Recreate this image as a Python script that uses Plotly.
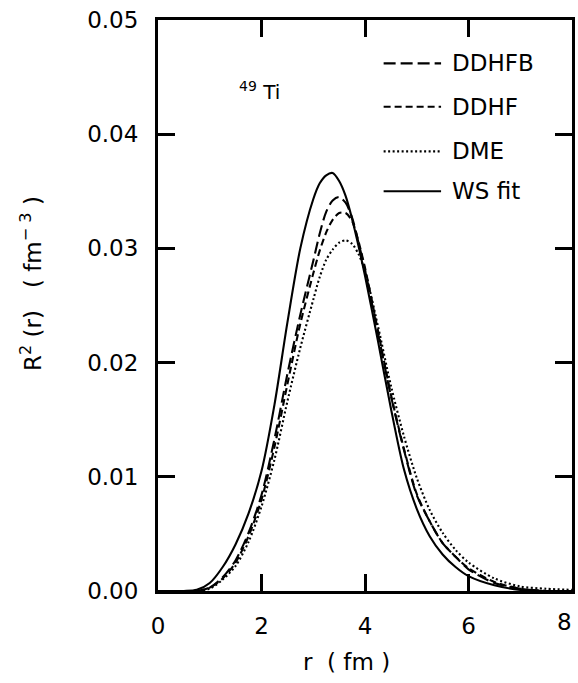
import plotly.graph_objects as go

# r grid (fm)
r = [0.0, 0.5, 0.75, 1.0, 1.25, 1.5, 1.75, 2.0, 2.25, 2.5, 2.75, 3.0, 3.125, 3.25,
     3.375, 3.5, 3.625, 3.75, 3.875, 4.0, 4.25, 4.5, 4.75, 5.0, 5.25, 5.5, 5.75,
     6.0, 6.5, 7.0, 7.5, 8.0]

ws_fit = [0.0, 0.0, 0.0001, 0.0007, 0.0021, 0.0041, 0.0068, 0.0105, 0.0163, 0.0235,
          0.0300, 0.0343, 0.0357, 0.0364, 0.0366, 0.0359, 0.0346, 0.0326, 0.0302,
          0.0276, 0.0219, 0.0160, 0.0107, 0.0072, 0.0048, 0.0032, 0.0021, 0.0013,
          0.0005, 0.0001, 0.0, 0.0]

ddhfb = [0.0, 0.0, 0.0, 0.0003, 0.0012, 0.0027, 0.0051, 0.0084, 0.0133, 0.0190,
         0.0242, 0.0289, 0.0313, 0.0332, 0.0342, 0.0345, 0.0340, 0.0327, 0.0305,
         0.0281, 0.0226, 0.0171, 0.0124, 0.0084, 0.0061, 0.0042, 0.0030, 0.0019,
         0.0007, 0.0002, 0.0, 0.0]

ddhf = [0.0, 0.0, 0.0, 0.0003, 0.0011, 0.0025, 0.0048, 0.0080, 0.0126, 0.0181,
        0.0234, 0.0278, 0.0298, 0.0314, 0.0325, 0.0331, 0.0331, 0.0324, 0.0306,
        0.0283, 0.0228, 0.0172, 0.0125, 0.0085, 0.0061, 0.0042, 0.0030, 0.0020,
        0.0008, 0.0002, 0.0, 0.0]

dme = [0.0, 0.0, 0.0, 0.0002, 0.0010, 0.0022, 0.0043, 0.0074, 0.0115, 0.0166,
       0.0213, 0.0255, 0.0275, 0.0290, 0.0299, 0.0305, 0.0307, 0.0304, 0.0295,
       0.0280, 0.0232, 0.0180, 0.0136, 0.0099, 0.0071, 0.0051, 0.0036, 0.0025,
       0.0011, 0.0004, 0.0002, 0.0001]

series_names = ["DDHFB", "DDHF", "DME", "WS fit"]
series_values = [ddhfb, ddhf, dme, ws_fit]
series_dash = ["12px,5px", "7px,4px", "2px,2.5px", "solid"]

x_ticks = [0, 2, 4, 6, 8]
y_ticks = [0.00, 0.01, 0.02, 0.03, 0.04, 0.05]

FONT = "DejaVu Sans"

L, R, T, B = 158, 3, 20, 92
W, H = 578, 683
pw = W - L - R
ph = H - T - B


def px(xp):
    return (xp - L) / pw


def py(yp):
    return (H - B - yp) / ph


fig = go.Figure()
for name, vals, dash in zip(series_names, series_values, series_dash):
    fig.add_trace(go.Scatter(
        x=r, y=vals, mode="lines", name=name,
        line=dict(color="black", width=2.1, dash=dash, shape="spline", smoothing=0.8),
        showlegend=False,
    ))

# manual legend (in data coordinates)
leg_x0, leg_x1, leg_text_x = 4.36, 5.47, 5.64
leg_y = [0.0462, 0.0424, 0.0385, 0.0350]
for name, dash, yy in zip(series_names, series_dash, leg_y):
    fig.add_shape(type="line", xref="x", yref="y", x0=leg_x0, x1=leg_x1, y0=yy, y1=yy,
                  line=dict(color="black", width=2.1, dash=dash))
    fig.add_annotation(x=leg_text_x, y=yy, xref="x", yref="y", text=name,
                       showarrow=False, xanchor="left", yanchor="middle",
                       font=dict(family=FONT, size=23, color="black"))

# nucleus label
fig.add_annotation(x=1.52, y=0.0438, xref="x", yref="y",
                   text="<sup>49</sup> Ti", showarrow=False, xanchor="left",
                   yanchor="middle", font=dict(family=FONT, size=20, color="black"))

# axis titles
fig.add_annotation(x=px(348), y=py(662), xref="paper", yref="paper",
                   text="r  ( fm )", showarrow=False, xanchor="center", yanchor="middle",
                   font=dict(family=FONT, size=23, color="black"))
fig.add_annotation(x=px(30), y=py(283), xref="paper", yref="paper",
                   text="R<sup>2</sup> (r)   ( fm<sup>\u2212 3</sup> )", showarrow=False,
                   textangle=-90, xanchor="center", yanchor="middle",
                   font=dict(family=FONT, size=23, color="black"))

# last x tick label, kept just inside the page edge
fig.add_annotation(x=px(577), y=py(622), xref="paper", yref="paper", text="8",
                   showarrow=False, xanchor="right", yanchor="middle",
                   font=dict(family=FONT, size=23, color="black"))

fig.update_layout(
    width=W, height=H,
    margin=dict(l=L, r=R, t=T, b=B),
    paper_bgcolor="white", plot_bgcolor="white",
    font=dict(family=FONT, size=23, color="black"),
)

fig.update_xaxes(range=[0, 8], tickvals=x_ticks[:-1],
                 ticktext=[str(v) for v in x_ticks[:-1]],
                 ticks="inside", ticklen=17, tickwidth=3, tickcolor="black",
                 showline=True, linewidth=3, linecolor="black", mirror="ticks",
                 showgrid=False, zeroline=False, ticklabelstandoff=12,
                 tickfont=dict(family=FONT, size=23, color="black"))
fig.update_yaxes(range=[0, 0.05], tickvals=y_ticks,
                 ticktext=["%.2f" % v for v in y_ticks],
                 ticks="inside", ticklen=17, tickwidth=3, tickcolor="black",
                 showline=True, linewidth=3, linecolor="black", mirror="ticks",
                 showgrid=False, zeroline=False, ticklabelstandoff=12,
                 tickfont=dict(family=FONT, size=23, color="black"))

fig.write_html("out.html")
